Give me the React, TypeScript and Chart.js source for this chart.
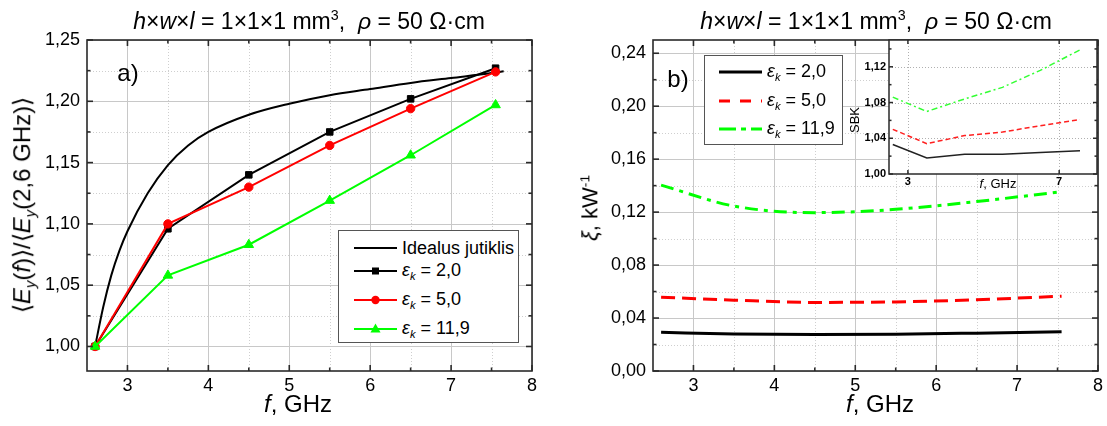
import React, { useEffect, useRef } from 'react';
import { Chart, registerables } from 'chart.js';

Chart.register(...registerables);

const FONT = '"Liberation Sans", Arial, Helvetica, sans-serif';

// ---------- data ----------
const FREQ = [2.6, 3.5, 4.5, 5.5, 6.5, 7.55];

// panel a
const IDEAL_F = [2.6, 2.7, 2.8, 2.9, 3.0, 3.25, 3.5, 3.75, 4.0, 4.5, 5.0, 5.5, 6.0, 6.5, 7.0, 7.5, 7.65];
const IDEAL = [1.0, 1.032, 1.058, 1.078, 1.094, 1.125, 1.148, 1.164, 1.175, 1.189, 1.198, 1.205, 1.21, 1.215, 1.219, 1.223, 1.2245];
const A_EPS2 = [1.0, 1.096, 1.14, 1.175, 1.202, 1.227];
const A_EPS5 = [1.0, 1.1, 1.13, 1.164, 1.194, 1.224];
const A_EPS119 = [1.0, 1.058, 1.083, 1.119, 1.156, 1.197];

// panel b
const B_EPS2 = [0.0292, 0.028, 0.0275, 0.0278, 0.0286, 0.0296];
const B_EPS5 = [0.0557, 0.0535, 0.0518, 0.0522, 0.0538, 0.0565];
const B_EPS119 = [0.1404, 0.1246, 0.1196, 0.1221, 0.128, 0.1354];

// inset (SBK)
const SBK_EPS2 = [1.033, 1.018, 1.022, 1.022, 1.024, 1.026];
const SBK_EPS5 = [1.05, 1.034, 1.043, 1.047, 1.054, 1.061];
const SBK_EPS119 = [1.086, 1.07, 1.084, 1.097, 1.116, 1.139];

// ticks
const X_LABELS = [3, 4, 5, 6, 7, 8];
const X_MAJOR = [3, 4, 5, 6, 7, 8];
const X_MINOR = [3.5, 4.5, 5.5, 6.5, 7.5];
const A_Y_LABELS = [1.0, 1.05, 1.1, 1.15, 1.2, 1.25];
const A_Y_MINOR = [1.025, 1.075, 1.125, 1.175, 1.225];
const B_Y_LABELS = [0, 0.04, 0.08, 0.12, 0.16, 0.2, 0.24];
const B_Y_MINOR = [0.02, 0.06, 0.1, 0.14, 0.18, 0.22];
const SBK_X_LABELS = [3, 7];
const SBK_Y_LABELS = [1.0, 1.04, 1.08, 1.12];
const SBK_Y_MINOR = [1.02, 1.06, 1.1, 1.14];

const GREEN = '#00ff00';
const RED = '#ff0000';

const pts = (xs: number[], ys: number[]) => xs.map((x, i) => ({ x, y: ys[i] }));
const fmt = (d: number) => (v: any) => Number(v).toFixed(d).replace('.', ',');

type FrameOpts = {
  xMajor: number[]; xMinor: number[]; yMajor: number[]; yMinor: number[];
  xGrid: number[]; xGridMinor: number[]; yGrid: number[]; yGridMinor: number[];
  majorDash: number[]; majorColor: string; minorColor: string;
  majorLen: number; minorLen: number; frameWidth: number; bg?: boolean;
};

function framePlugin(o: FrameOpts) {
  const seg = (ctx: any, x1: number, y1: number, x2: number, y2: number) => {
    ctx.beginPath(); ctx.moveTo(x1, y1); ctx.lineTo(x2, y2); ctx.stroke();
  };
  return {
    id: 'frameGrid',
    beforeDatasetsDraw(chart: any) {
      const { ctx, chartArea: a } = chart;
      const x = chart.scales.x, y = chart.scales.y;
      ctx.save();
      if (o.bg) {
        ctx.fillStyle = '#ffffff';
        ctx.fillRect(a.left, a.top, a.right - a.left, a.bottom - a.top);
      }
      ctx.lineWidth = 1;
      const vl = (v: number) => { const p = Math.round(x.getPixelForValue(v)) + 0.5; seg(ctx, p, a.top, p, a.bottom); };
      const hl = (v: number) => { const p = Math.round(y.getPixelForValue(v)) + 0.5; seg(ctx, a.left, p, a.right, p); };
      ctx.strokeStyle = o.minorColor; ctx.setLineDash([1, 2]);
      o.xGridMinor.forEach(vl); o.yGridMinor.forEach(hl);
      ctx.strokeStyle = o.majorColor; ctx.setLineDash(o.majorDash);
      o.xGrid.forEach(vl); o.yGrid.forEach(hl);
      ctx.restore();
    },
    afterDatasetsDraw(chart: any) {
      const { ctx, chartArea: a } = chart;
      const x = chart.scales.x, y = chart.scales.y;
      ctx.save();
      ctx.strokeStyle = '#2a2a2a';
      ctx.setLineDash([]);
      ctx.lineWidth = o.frameWidth;
      ctx.strokeRect(a.left, a.top, a.right - a.left, a.bottom - a.top);
      const tx = (v: number, len: number) => {
        const p = x.getPixelForValue(v);
        seg(ctx, p, a.bottom, p, a.bottom - len); seg(ctx, p, a.top, p, a.top + len);
      };
      const ty = (v: number, len: number) => {
        const p = y.getPixelForValue(v);
        seg(ctx, a.left, p, a.left + len, p); seg(ctx, a.right, p, a.right - len, p);
      };
      o.xMajor.forEach((v) => tx(v, o.majorLen)); o.xMinor.forEach((v) => tx(v, o.minorLen));
      o.yMajor.forEach((v) => ty(v, o.majorLen)); o.yMinor.forEach((v) => ty(v, o.minorLen));
      ctx.restore();
    },
  };
}

type CfgOpts = {
  datasets: any[]; xMin: number; xMax: number; yMin: number; yMax: number;
  xLabels: number[]; yLabels: number[]; yDec: number; yWidth: number; xHeight: number;
  padding: any; fontSize: number; fontWeight: string; xPad: number; yPad: number; frame: FrameOpts;
};

function buildConfig(p: CfgOpts): any {
  const font = { family: FONT, size: p.fontSize, weight: p.fontWeight };
  return {
    type: 'line',
    data: { datasets: p.datasets },
    options: {
      animation: false,
      responsive: false,
      maintainAspectRatio: false,
      events: [],
      layout: { padding: p.padding },
      plugins: { legend: { display: false }, tooltip: { enabled: false }, title: { display: false } },
      scales: {
        x: {
          type: 'linear', min: p.xMin, max: p.xMax,
          grid: { display: false, drawTicks: false }, border: { display: false },
          afterBuildTicks: (s: any) => { s.ticks = p.xLabels.map((v) => ({ value: v })); },
          afterFit: (s: any) => { s.height = p.xHeight; },
          ticks: { font, color: '#000', padding: p.xPad, autoSkip: false, maxRotation: 0, callback: (v: any) => String(v) },
        },
        y: {
          type: 'linear', min: p.yMin, max: p.yMax,
          grid: { display: false, drawTicks: false }, border: { display: false },
          afterBuildTicks: (s: any) => { s.ticks = p.yLabels.map((v) => ({ value: v })); },
          afterFit: (s: any) => { s.width = p.yWidth; },
          ticks: { font, color: '#000', padding: p.yPad, autoSkip: false, callback: fmt(p.yDec) },
        },
      },
    },
    plugins: [framePlugin(p.frame)],
  };
}

const mainFrame = (yMajor: number[], yMinor: number[]): FrameOpts => ({
  xMajor: X_MAJOR, xMinor: X_MINOR, yMajor, yMinor,
  xGrid: X_MAJOR, xGridMinor: X_MINOR, yGrid: yMajor, yGridMinor: yMinor,
  majorDash: [], majorColor: '#c8c8c8', minorColor: '#cfcfcf',
  majorLen: 6, minorLen: 3.5, frameWidth: 1.6,
});

function configA() {
  return buildConfig({
    datasets: [
      { data: pts(FREQ, A_EPS119), borderColor: GREEN, backgroundColor: GREEN, borderWidth: 2, tension: 0,
        pointStyle: 'triangle', pointRadius: 5.5, pointBackgroundColor: GREEN, pointBorderColor: GREEN, pointBorderWidth: 1 },
      { data: pts(FREQ, A_EPS5), borderColor: RED, backgroundColor: RED, borderWidth: 2, tension: 0,
        pointStyle: 'circle', pointRadius: 4.2, pointBackgroundColor: RED, pointBorderColor: RED, pointBorderWidth: 1 },
      { data: pts(FREQ, A_EPS2), borderColor: '#000000', backgroundColor: '#000000', borderWidth: 2, tension: 0,
        pointStyle: 'rect', pointRadius: 4.6, pointBackgroundColor: '#000000', pointBorderColor: '#000000', pointBorderWidth: 1 },
      { data: pts(IDEAL_F, IDEAL), borderColor: '#000000', borderWidth: 2, pointRadius: 0, cubicInterpolationMode: 'monotone' },
    ],
    xMin: 2.5, xMax: 8, yMin: 0.98, yMax: 1.25,
    xLabels: X_LABELS, yLabels: A_Y_LABELS, yDec: 2,
    yWidth: 87, xHeight: 55, padding: { left: 0, top: 40, right: 28, bottom: 0 },
    fontSize: 18, fontWeight: 'normal', xPad: 4, yPad: 7,
    frame: mainFrame(A_Y_LABELS, A_Y_MINOR),
  });
}

function configB() {
  return buildConfig({
    datasets: [
      { data: pts(FREQ, B_EPS119), borderColor: GREEN, borderWidth: 3, pointRadius: 0, borderDash: [13, 6, 4, 6],
        cubicInterpolationMode: 'monotone' },
      { data: pts(FREQ, B_EPS5), borderColor: RED, borderWidth: 3, pointRadius: 0, borderDash: [14, 7],
        cubicInterpolationMode: 'monotone' },
      { data: pts(FREQ, B_EPS2), borderColor: '#000000', borderWidth: 3, pointRadius: 0, cubicInterpolationMode: 'monotone' },
    ],
    xMin: 2.5, xMax: 8, yMin: 0, yMax: 0.25,
    xLabels: X_LABELS, yLabels: B_Y_LABELS, yDec: 2,
    yWidth: 93, xHeight: 55, padding: { left: 0, top: 40, right: 9, bottom: 0 },
    fontSize: 18, fontWeight: 'normal', xPad: 4, yPad: 7,
    frame: mainFrame(B_Y_LABELS, B_Y_MINOR),
  });
}

function configInset() {
  return buildConfig({
    datasets: [
      { data: pts(FREQ, SBK_EPS119), borderColor: '#33ff33', borderWidth: 1.5, pointRadius: 0, borderDash: [6, 3, 2, 3], tension: 0 },
      { data: pts(FREQ, SBK_EPS5), borderColor: '#ff2020', borderWidth: 1.5, pointRadius: 0, borderDash: [5, 3], tension: 0 },
      { data: pts(FREQ, SBK_EPS2), borderColor: '#222222', borderWidth: 1.5, pointRadius: 0, tension: 0 },
    ],
    xMin: 2.5, xMax: 8, yMin: 1.0, yMax: 1.15,
    xLabels: SBK_X_LABELS, yLabels: SBK_Y_LABELS, yDec: 2,
    yWidth: 49, xHeight: 26, padding: { left: 0, top: 20, right: 10, bottom: 0 },
    fontSize: 11, fontWeight: 'bold', xPad: 1, yPad: 3,
    frame: {
      xMajor: SBK_X_LABELS, xMinor: [], yMajor: SBK_Y_LABELS, yMinor: SBK_Y_MINOR,
      xGrid: SBK_X_LABELS, xGridMinor: [], yGrid: [1.04, 1.08, 1.12], yGridMinor: [],
      majorDash: [1, 2], majorColor: '#b0b0b0', minorColor: '#b0b0b0',
      majorLen: 4, minorLen: 2.5, frameWidth: 1.5, bg: true,
    },
  });
}

function ChartCanvas({ left, top, width, height, make }: any) {
  const ref = useRef<HTMLCanvasElement | null>(null);
  useEffect(() => {
    if (!ref.current) return;
    const c = new Chart(ref.current, make());
    return () => c.destroy();
  }, []);
  return <canvas ref={ref} width={width} height={height} style={{ position: 'absolute', left, top, width, height }} />;
}

const sub = (t: string, italic = true) => (
  <span style={{ fontSize: '0.62em', position: 'relative', top: '0.35em', fontStyle: italic ? 'italic' : 'normal' }}>{t}</span>
);
const sup = (t: string) => (
  <span style={{ fontSize: '0.62em', position: 'relative', top: '-0.6em' }}>{t}</span>
);

function Label({ cx, cy, size, rotate, children }: any) {
  return (
    <div
      style={{
        position: 'absolute', left: cx, top: cy, fontFamily: FONT, fontSize: size, lineHeight: 1.15,
        whiteSpace: 'nowrap', color: '#000',
        transform: `translate(-50%, -50%)${rotate ? ' rotate(-90deg)' : ''}`,
      }}
    >
      {children}
    </div>
  );
}

const TitleText = () => (
  <>
    <i>h</i>×<i>w</i>×<i>l</i> = 1×1×1 mm{sup('3')},&nbsp; <i>ρ</i> = 50 Ω·cm
  </>
);

const Eps = ({ v }: { v: string }) => (
  <>
    <i>ε</i>{sub('k')} = {v}
  </>
);

function Sample({ color, dash, marker, width }: any) {
  return (
    <svg width={43} height={20} style={{ display: 'block', flex: 'none' }}>
      <line x1={0} y1={10} x2={43} y2={10} stroke={color} strokeWidth={width} strokeDasharray={dash || undefined} />
      {marker === 'rect' && <rect x={18} y={6.5} width={7} height={7} fill={color} />}
      {marker === 'circle' && <circle cx={21.5} cy={10} r={4.2} fill={color} />}
      {marker === 'triangle' && <polygon points="21.5,4.5 26.5,13.5 16.5,13.5" fill={color} />}
    </svg>
  );
}

function LegendBox({ left, top, width, height, rows }: any) {
  return (
    <div style={{ position: 'absolute', left, top, width, height, background: '#fff', border: '1px solid #555', boxSizing: 'border-box' }}>
      {rows.map((r: any, i: number) => (
        <div key={i} style={{ position: 'absolute', left: r.sx, top: r.y - 12, height: 24, display: 'flex', alignItems: 'center',
          fontFamily: FONT, fontSize: 18, whiteSpace: 'nowrap', color: '#000' }}>
          <Sample {...r.sample} />
          <span style={{ marginLeft: 5, lineHeight: '24px' }}>{r.text}</span>
        </div>
      ))}
    </div>
  );
}

export default function App() {
  return (
    <div style={{ position: 'absolute', left: 0, top: 0, width: 1107, height: 426, background: '#fff', overflow: 'hidden' }}>
      <ChartCanvas left={0} top={0} width={560} height={426} make={configA} />
      <ChartCanvas left={560} top={0} width={547} height={426} make={configB} />
      <ChartCanvas left={840} top={20} width={267} height={180} make={configInset} />

      <Label cx={309} cy={21} size={23}><TitleText /></Label>
      <Label cx={876} cy={21} size={23}><TitleText /></Label>

      <Label cx={128} cy={73} size={24}>a)</Label>
      <Label cx={678} cy={79} size={24}>b)</Label>

      <Label cx={298} cy={404} size={24}><i>f</i>, GHz</Label>
      <Label cx={880} cy={404} size={24}><i>f</i>, GHz</Label>

      <Label cx={22} cy={205} size={24} rotate>
        ⟨<i>E</i>{sub('y')}(<i>f</i>)⟩/⟨<i>E</i>{sub('y')}(2,6 GHz)⟩
      </Label>
      <Label cx={590} cy={208} size={22} rotate>
        <i>ξ</i>, kW{sup('-1')}
      </Label>

      <Label cx={855} cy={120} size={13} rotate>SBK</Label>
      <Label cx={998} cy={184} size={13}><i>f</i>, GHz</Label>

      <LegendBox left={338} top={230} width={181} height={113} rows={[
        { y: 17, sx: 15, sample: { color: '#000', width: 2 }, text: 'Idealus jutiklis' },
        { y: 40, sx: 15, sample: { color: '#000', width: 2, marker: 'rect' }, text: <Eps v="2,0" /> },
        { y: 69, sx: 15, sample: { color: RED, width: 2, marker: 'circle' }, text: <Eps v="5,0" /> },
        { y: 98, sx: 15, sample: { color: GREEN, width: 2, marker: 'triangle' }, text: <Eps v="11,9" /> },
      ]} />

      <LegendBox left={704} top={55} width={139} height={90} rows={[
        { y: 16, sx: 14, sample: { color: '#000', width: 3 }, text: <Eps v="2,0" /> },
        { y: 45, sx: 14, sample: { color: RED, width: 3, dash: '11 10' }, text: <Eps v="5,0" /> },
        { y: 73, sx: 14, sample: { color: GREEN, width: 3, dash: '17 5 5 5' }, text: <Eps v="11,9" /> },
      ]} />
    </div>
  );
}
